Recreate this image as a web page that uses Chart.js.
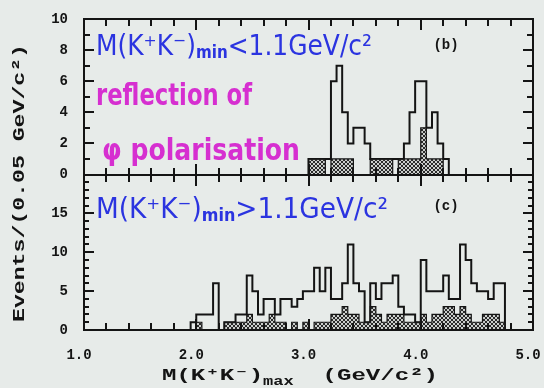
<!DOCTYPE html>
<html>
<head>
<meta charset="utf-8">
<script src="https://cdn.jsdelivr.net/npm/chart.js@4.4.0/dist/chart.umd.min.js"></script>
<style>
  html, body { margin: 0; padding: 0; background: #e7ebe9; }
  #wrap { width: 544px; height: 388px; }
</style>
</head>
<body>
<div id="wrap"><canvas id="histChart" width="544" height="388"></canvas></div>
<script>
// bin width in GeV/c^2, first bin lower edge for each panel
const binWidth = 0.05;
const topStart = 3.00;
const botStart = 1.95;

// panel (b): M(K+K-)min < 1.1, bins from 3.00
const topOpen    = [1,1,1,1,6,7,4,2,3,3,2,1,1,1,1,1,1,2,4,6,6,3,4,2,1];
const topHatched = [1,1,1,0,1,1,1,1,0,0,0,1,1,1,1,0,1,1,1,1,3,1,1,1,0];

// panel (c): M(K+K-)min > 1.1, bins from 1.95
const botOpen = [1,2,2,2,6,0,1,1,2,2,7,5,2,4,4,2,4,4,3,4,5,5,8,5,8,4,4,6,11,6,
                 5,1,6,4,6,6,7,3,2,2,1,9,5,5,5,7,4,4,11,9,6,5,5,4,6,6];
const botHatched = [0,1,0,0,0,0,1,1,1,1,2,1,1,1,2,1,1,0,1,0,1,0,1,1,1,2,2,3,2,2,
                    1,1,3,2,1,2,2,2,1,1,1,2,1,2,2,3,3,2,3,2,1,1,2,2,2,1];

const massTicks = [1.0, 2.0, 3.0, 4.0, 5.0];
const topTicks = [0, 2, 4, 6, 8, 10];
const botTicks = [0, 5, 10, 15];

const ink = '#141414';
const tickFont = { family: '"Liberation Mono", "DejaVu Sans Mono", monospace', size: 14, weight: 'bold' };

function histPoints(start, values) {
    const pts = [{ x: start, y: 0 }];
    values.forEach((v, i) => pts.push({ x: +(start + i * binWidth).toFixed(2), y: v }));
    pts.push({ x: +(start + values.length * binWidth).toFixed(2), y: 0 });
    return pts;
}

function makeHatch() {
    const c = document.createElement('canvas');
    c.width = 4; c.height = 4;
    const g = c.getContext('2d');
    g.fillStyle = 'rgba(140,140,140,0.3)';
    g.fillRect(0, 0, 4, 4);
    g.strokeStyle = '#2a2a2a';
    g.lineWidth = 1;
    g.beginPath();
    g.moveTo(0, 4); g.lineTo(4, 0);
    g.moveTo(0, 0); g.lineTo(4, 4);
    g.stroke();
    return g.createPattern(c, 'repeat');
}

function drawSegments(ctx, segs, x, y, targetWidth, color) {
    ctx.save();
    let total = 0;
    segs.forEach(s => { ctx.font = s.font; s.w = ctx.measureText(s.t).width; total += s.w; });
    const k = targetWidth ? targetWidth / total : 1;
    ctx.translate(x, y);
    ctx.scale(k, 1);
    ctx.fillStyle = color;
    ctx.textAlign = 'left';
    ctx.textBaseline = 'alphabetic';
    let cx = 0;
    segs.forEach(s => { ctx.font = s.font; ctx.fillText(s.t, cx, s.dy || 0); cx += s.w; });
    ctx.restore();
}

function noPad(s) {
    s.paddingLeft = 0; s.paddingRight = 0; s.paddingTop = 0; s.paddingBottom = 0;
}

// frame with inward ticks on every side, and the shared panel border
const framePlugin = {
    id: 'frame',
    afterDraw(chart) {
        const c = chart.ctx;
        const a = chart.chartArea;
        const xs = chart.scales.x, yt = chart.scales.yTop, yb = chart.scales.yBot;
        const L = Math.round(a.left), R = Math.round(a.right);
        const T = Math.round(a.top), B = Math.round(a.bottom);
        // panel edges taken from the stacked scales themselves
        const tTop = yt.top, tBot = yt.bottom;
        const bTop = yb.top, bBot = yb.bottom;
        const mid = Math.round(tBot);
        const xL = xs.left, xR = xs.right;
        c.save();
        c.fillStyle = ink;
        // frame and divider
        c.fillRect(L - 1, T - 1, R - L + 2, 2);
        c.fillRect(L - 1, B - 1, R - L + 2, 2);
        c.fillRect(L - 1, T - 1, 2, B - T + 2);
        c.fillRect(R - 1, T - 1, 2, B - T + 2);
        c.fillRect(L - 1, mid - 1, R - L + 2, 2);
        // y ticks on both sides, one per count
        for (let v = 1; v < 10; v++) {
            const len = v % 2 === 0 ? 10 : 6;
            const p = Math.round(tBot - (tBot - tTop) * v / 10);
            c.fillRect(L, p - 1, len, 2);
            c.fillRect(R - len, p - 1, len, 2);
        }
        for (let v = 1; v < 20; v++) {
            const len = v % 5 === 0 ? 10 : 5;
            const p = Math.round(bBot - (bBot - bTop) * v / 20);
            c.fillRect(L, p - 1, len, 2);
            c.fillRect(R - len, p - 1, len, 2);
        }
        // x ticks every 0.2 GeV on top, divider and bottom
        for (let i = 1; i < 20; i++) {
            const len = i % 5 === 0 ? 11 : 7;
            const p = Math.round(xL + (xR - xL) * i / 20);
            c.fillRect(p - 1, T, 2, len);
            c.fillRect(p - 1, mid - len, 2, 2 * len);
            c.fillRect(p - 1, B - len, 2, len);
        }
        c.restore();

        const mono = '"Liberation Mono", "DejaVu Sans Mono", monospace';
        const hand = '"DejaVu Sans", sans-serif';

        // axis titles
        drawSegments(c, [
            { t: 'M(K⁺K⁻)', font: 'bold 17px ' + mono },
            { t: 'max', font: 'bold 12px ' + mono, dy: 5 },
            { t: '  (GeV/c²)', font: 'bold 17px ' + mono }
        ], 162, 380, 276, ink);
        c.save();
        c.translate(24, 322);
        c.rotate(-Math.PI / 2);
        drawSegments(c, [{ t: 'Events/(0.05 GeV/c²)', font: 'bold 17px ' + mono }], 0, 0, 278, ink);
        c.restore();

        // panel tags
        c.save();
        c.fillStyle = ink;
        c.font = 'bold 14px ' + mono;
        c.textAlign = 'center';
        c.textBaseline = 'middle';
        c.fillText('(b)', 446, 45);
        c.fillText('(c)', 446, 206);
        c.restore();

        // handwritten notes
        const blue = '#2b34e0', pink = '#d62fd0';
        drawSegments(c, [
            { t: 'M(K⁺K⁻)', font: '28px ' + hand },
            { t: 'min', font: 'bold 17px ' + hand, dy: 3 },
            { t: '<1.1GeV/c²', font: '28px ' + hand }
        ], 96, 55, 276, blue);
        drawSegments(c, [{ t: 'reflection of', font: 'bold 30px ' + hand }], 96, 105, 156, pink);
        drawSegments(c, [{ t: 'φ polarisation', font: 'bold 30px ' + hand }], 102, 160, 198, pink);
        drawSegments(c, [
            { t: 'M(K⁺K⁻)', font: '28px ' + hand },
            { t: 'min', font: 'bold 17px ' + hand, dy: 3 },
            { t: '>1.1GeV/c²', font: '28px ' + hand }
        ], 96, 218, 292, blue);
    }
};

const hatch = makeHatch();

new Chart(document.getElementById('histChart').getContext('2d'), {
    type: 'line',
    data: {
        datasets: [
            {
                label: 'top hatched',
                data: histPoints(topStart, topHatched),
                yAxisID: 'yTop',
                stepped: true,
                borderColor: ink,
                borderWidth: 1.2,
                backgroundColor: hatch,
                fill: 'origin',
                pointRadius: 0
            },
            {
                label: 'top all',
                data: histPoints(topStart, topOpen),
                yAxisID: 'yTop',
                stepped: true,
                borderColor: ink,
                borderWidth: 2,
                fill: false,
                pointRadius: 0
            },
            {
                label: 'bottom hatched',
                data: histPoints(botStart, botHatched),
                yAxisID: 'yBot',
                stepped: true,
                borderColor: ink,
                borderWidth: 1.2,
                backgroundColor: hatch,
                fill: 'origin',
                pointRadius: 0
            },
            {
                label: 'bottom all',
                data: histPoints(botStart, botOpen),
                yAxisID: 'yBot',
                stepped: true,
                borderColor: ink,
                borderWidth: 2,
                fill: false,
                pointRadius: 0
            }
        ]
    },
    options: {
        responsive: false,
        animation: false,
        layout: { padding: { top: 19, right: 11, left: 0, bottom: 0 } },
        plugins: { legend: { display: false }, tooltip: { enabled: false } },
        scales: {
            x: {
                type: 'linear',
                min: 1.0,
                max: 5.0,
                afterBuildTicks: s => { s.ticks = massTicks.map(v => ({ value: v })); },
                ticks: { autoSkip: false, callback: v => v.toFixed(1), font: tickFont, color: ink, padding: 9, maxRotation: 0, labelOffset: -5 },
                grid: { display: false },
                border: { display: false },
                afterFit: s => { s.height = 58; noPad(s); }
            },
            yBot: {
                type: 'linear',
                position: 'left',
                stack: 'panels',
                stackWeight: 1,
                min: 0,
                max: 20,
                afterBuildTicks: s => { s.ticks = botTicks.map(v => ({ value: v })); },
                ticks: { autoSkip: false, font: tickFont, color: ink, padding: 8 },
                grid: { display: false },
                border: { display: false },
                afterFit: s => { s.width = 84; noPad(s); }
            },
            yTop: {
                type: 'linear',
                position: 'left',
                stack: 'panels',
                stackWeight: 1,
                min: 0,
                max: 10,
                afterBuildTicks: s => { s.ticks = topTicks.map(v => ({ value: v })); },
                ticks: { autoSkip: false, font: tickFont, color: ink, padding: 8 },
                grid: { display: false },
                border: { display: false },
                afterFit: s => { s.width = 84; noPad(s); }
            }
        }
    },
    plugins: [framePlugin]
});
</script>
</body>
</html>
